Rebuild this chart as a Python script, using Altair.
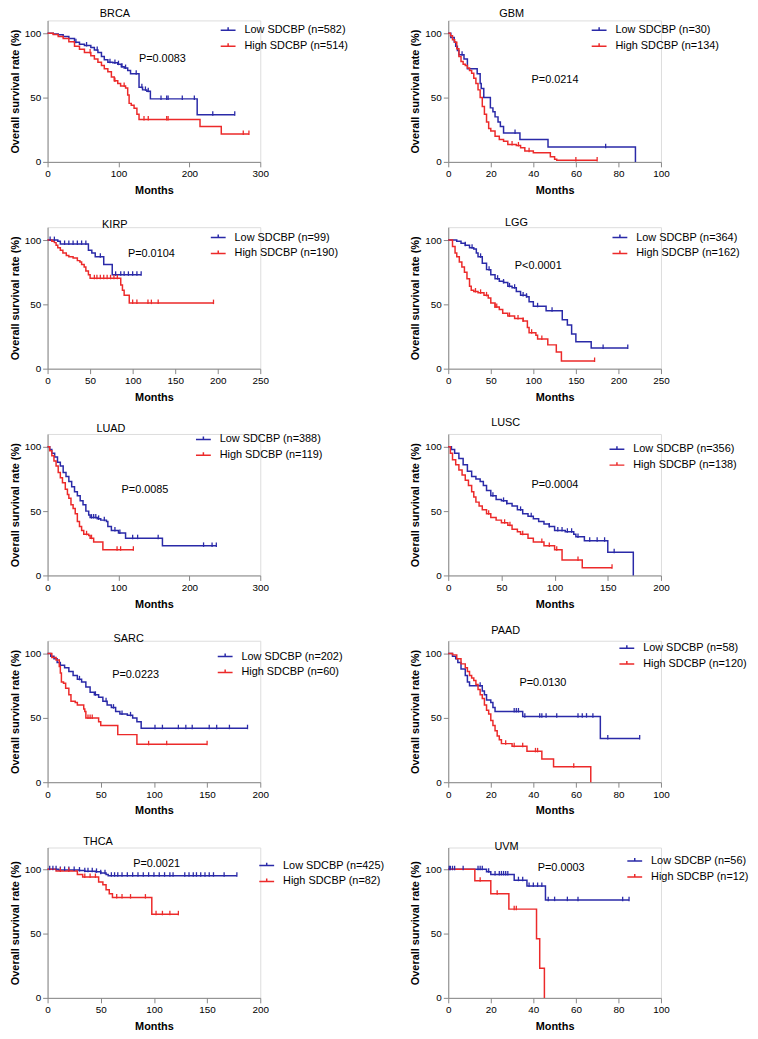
import altair as alt
import pandas as pd

BLUE = "#2a2aa8"
RED = "#ec2a2a"
FONT = "Liberation Sans"

# ---------------- data (months, % survival) ----------------
brca_low_t = [0, 8, 15, 22, 30, 38, 45, 52, 61, 66, 71, 76, 80, 85, 92, 99, 104, 108, 113, 117, 129, 134, 140, 145, 211, 264]
brca_low_s = [100, 99.5, 98.8, 97.5, 96, 93, 91.5, 90.5, 89, 87, 85, 82, 79.5, 77.5, 77, 76, 74, 73, 71, 68.5, 58, 56, 55, 49, 36.6, 36.6]
brca_low_c = [40, 55, 70, 88, 95, 100, 105, 110, 125, 133, 138, 142, 160, 168, 170, 190, 207, 233, 264]
brca_high_t = [0, 8, 15, 22, 30, 38, 45, 52, 61, 66, 71, 76, 80, 85, 90, 94, 99, 103, 110, 113, 115, 118, 122, 126, 129, 215, 245, 284]
brca_high_s = [100, 99, 97.5, 96, 93.5, 90, 87.5, 85, 82.5, 80, 77.5, 75, 72.5, 70, 66, 63, 61, 59, 57.5, 52, 45.5, 44, 41.7, 37, 33, 27.6, 21.7, 21.7]
brca_high_c = [60, 95, 108, 136, 142, 168, 170, 276, 284]

gbm_low_t = [0, 1.2, 2.8, 3.5, 4.3, 5, 7.4, 9, 13.6, 15, 15.5, 16.7, 19.8, 21, 22, 23.4, 24.5, 26, 33.7, 46.9, 88]
gbm_low_s = [100, 96.7, 93.3, 90, 86.7, 83.3, 80, 72.4, 68.5, 61, 57, 50, 42, 39, 35, 31, 27.6, 22.5, 17.4, 11.5, 0]
gbm_low_c = [6.5, 31.4, 74]
gbm_high_t = [0, 1, 2, 3, 4, 5, 6, 7, 8, 9, 10, 11, 12, 13, 14, 15, 16, 17, 18, 19, 20, 22, 24, 26, 28, 32, 34, 36, 40, 48, 50, 51, 70]
gbm_high_s = [100, 98, 95, 93, 88, 82, 78, 76, 75, 73, 71, 69, 65, 61, 56, 50, 43, 37, 31, 26, 24, 20, 17.4, 16, 13.5, 12.8, 11, 8.4, 7.2, 4, 2, 1.2, 1.2]
gbm_high_c = [30, 33, 38, 60, 70]

kirp_low_t = [0, 12, 15, 48, 52, 56, 66, 76, 110]
kirp_low_s = [100, 99, 97, 92, 90, 87, 81, 73, 73]
kirp_low_c = [3, 8, 20, 25, 30, 35, 40, 45, 62, 80, 86, 90, 95, 100, 105, 110]
kirp_high_t = [0, 5, 8, 10, 12, 15, 18, 22, 25, 30, 35, 38, 40, 43, 45, 48, 50, 86, 88, 90, 96, 195]
kirp_high_s = [100, 99, 98, 96, 94, 92, 90, 88, 87, 86, 84, 83, 81, 79, 76, 73, 70.3, 65, 61, 57, 51, 51]
kirp_high_c = [55, 58, 62, 66, 70, 74, 78, 82, 100, 105, 118, 122, 130, 195]

lgg_low_t = [0, 10, 15, 20, 25, 30, 33, 35, 40, 45, 50, 55, 60, 65, 70, 75, 80, 85, 92, 95, 100, 115, 134, 140, 145, 150, 168, 211]
lgg_low_s = [100, 99, 97.5, 96, 94, 93, 90, 87, 82, 77, 73, 70, 68, 67, 64, 63, 60, 57, 56, 52, 48.5, 45, 38, 34, 27, 21, 16, 16]
lgg_low_c = [20, 28, 38, 48, 58, 65, 72, 78, 88, 92, 105, 122, 182, 211]
lgg_high_t = [0, 5, 8, 10, 13, 16, 19, 22, 25, 27, 30, 35, 42, 47, 50, 55, 60, 64, 70, 78, 88, 93, 95, 103, 105, 117, 127, 133, 172]
lgg_high_s = [100, 95, 90, 87, 83, 79, 75, 70, 64, 61, 60, 59, 57, 55, 51, 48, 46, 43, 41, 39, 37, 32, 28, 26, 23, 18.5, 13, 6, 6]
lgg_high_c = [32, 38, 45, 55, 57, 72, 82, 88, 98, 110, 172]

luad_low_t = [0, 3, 6, 10, 14, 18, 22, 26, 30, 34, 38, 42, 46, 50, 54, 58, 60, 70, 75, 83, 85, 90, 100, 110, 162, 238]
luad_low_s = [100, 98, 95, 92, 88, 85, 80, 77, 73, 69, 65, 62, 58, 55, 50, 47, 45, 44, 43, 42, 38, 35, 33, 29, 23, 23]
luad_low_c = [62, 65, 68, 72, 80, 95, 102, 120, 127, 156, 220, 232, 238]
luad_high_t = [0, 3, 6, 9, 12, 15, 18, 21, 25, 28, 30, 33, 36, 39, 42, 45, 48, 51, 58, 60, 65, 78, 121]
luad_high_s = [100, 97, 93, 89, 85, 80, 76, 72, 67, 63, 60, 55, 52, 48, 42, 38, 35, 32, 31, 29, 26, 20, 20]
luad_high_c = [55, 62, 98, 103, 121]

lusc_low_t = [0, 3, 6, 10, 14, 18, 22, 26, 30, 33, 36, 40, 45, 50, 55, 60, 65, 70, 75, 80, 85, 90, 95, 100, 110, 118, 120, 128, 150, 174]
lusc_low_s = [100, 98, 95, 91, 86, 81, 77, 75, 73, 70, 66, 62, 59, 58, 56, 54, 51, 48, 46, 44, 42, 40, 38, 35, 34, 32, 30, 27, 18, 0]
lusc_low_c = [42, 52, 55, 68, 78, 95, 103, 107, 112, 116, 122, 133, 140, 147, 156]
lusc_high_t = [0, 2, 4, 7, 10, 13, 16, 19, 22, 24, 26, 29, 32, 36, 40, 45, 50, 56, 60, 65, 68, 75, 80, 90, 100, 107, 126, 154]
lusc_high_s = [100, 95, 90, 86, 82, 78, 74, 70, 65, 61, 57, 54, 51, 48, 45, 43, 41, 39, 36, 34, 32, 29, 26, 23, 20, 12, 6, 6]
lusc_high_c = [38, 53, 58, 70, 88, 95, 102, 122, 154]

sarc_low_t = [0, 3, 6, 9, 12, 16, 20, 24, 28, 32, 36, 40, 44, 48, 52, 56, 60, 64, 68, 75, 80, 84, 88, 188]
sarc_low_s = [100, 98, 96, 93, 91, 89, 86, 83, 80, 78, 74, 70, 68, 66, 63, 60, 58, 55, 53, 52, 50, 47, 42, 42]
sarc_low_c = [30, 45, 55, 62, 70, 78, 101, 108, 123, 130, 136, 152, 159, 171, 188]
sarc_high_t = [0, 4, 8, 11, 12, 13, 15, 17, 20, 22, 26, 28, 34, 35, 36, 48, 50, 66, 84, 150]
sarc_high_s = [100, 97, 95, 90, 85, 78, 77, 73, 68, 63, 62, 60, 57, 55, 50, 47, 44, 37, 29.5, 29.5]
sarc_high_c = [38, 40, 42, 95, 112, 150]

paad_low_t = [0, 2, 3.5, 4.5, 6, 8, 9, 10, 16, 17, 18, 20, 21, 22, 35, 71.5, 90]
paad_low_s = [100, 98, 96, 93, 88, 83, 78, 75, 71, 68, 64, 62, 58, 55, 51, 34, 34]
paad_low_c = [15, 31, 32, 33, 36, 43, 44, 46, 51, 61, 63, 65, 68, 75, 90]
paad_high_t = [0, 2, 4, 6, 8, 9, 10, 11, 12, 13, 14, 15, 16, 17, 18, 19, 20, 21, 22, 23, 24, 25, 30, 37, 44, 49.5, 67]
paad_high_s = [100, 99, 96, 92, 89, 86, 83, 81, 79, 76, 72, 68, 65, 60, 56, 53, 48, 44, 40, 36, 33, 30, 28, 24, 18, 12, 0]
paad_high_c = [27, 31, 35, 41, 42, 59]

thca_low_t = [0, 10, 30, 35, 45, 50, 55, 57, 178]
thca_low_s = [100, 99.5, 99, 98.5, 98, 97, 96, 95, 95]
thca_low_c = [2, 5, 8, 12, 16, 20, 25, 30, 35, 38, 42, 46, 50, 54, 60, 63, 66, 70, 75, 80, 85, 90, 95, 100,
              105, 110, 115, 118, 129, 133, 137, 140, 144, 148, 152, 156, 166, 178]
thca_high_t = [0, 8, 28, 33, 48, 52, 55, 58, 61, 98, 123]
thca_high_s = [100, 98.7, 96, 94, 90, 88, 84, 81, 78, 65, 65]
thca_high_c = [12, 20, 35, 40, 45, 65, 70, 78, 92, 102, 108, 115, 123]

uvm_low_t = [0, 18, 20, 31, 37, 45.7, 85]
uvm_low_s = [100, 98, 96, 91.5, 87, 76, 76]
uvm_low_c = [0.5, 1, 2, 3, 7, 14, 15, 16, 19, 22, 24, 25, 26, 27, 28, 33, 35, 38, 40, 42, 44, 47, 50, 56, 61, 82, 85]
uvm_high_t = [0, 12.5, 20, 28.5, 41.5, 43, 45.2]
uvm_high_s = [100, 91, 81, 69, 46, 23, 0]
uvm_high_c = [15, 23, 31, 32]

cancers = ["BRCA", "GBM", "KIRP", "LGG", "LUAD", "LUSC", "SARC", "PAAD", "THCA", "UVM"]
n_low = [582, 30, 99, 364, 388, 356, 202, 58, 425, 56]
n_high = [514, 134, 190, 162, 119, 138, 60, 120, 82, 12]
p_values = ["P=0.0083", "P=0.0214", "P=0.0104", "P<0.0001", "P=0.0085",
            "P=0.0004", "P=0.0223", "P=0.0130", "P=0.0021", "P=0.0003"]
x_max = [300, 100, 250, 250, 300, 200, 200, 100, 200, 100]
x_step = [100, 20, 50, 50, 100, 50, 50, 20, 50, 20]

low_curves = [(brca_low_t, brca_low_s, brca_low_c), (gbm_low_t, gbm_low_s, gbm_low_c),
              (kirp_low_t, kirp_low_s, kirp_low_c), (lgg_low_t, lgg_low_s, lgg_low_c),
              (luad_low_t, luad_low_s, luad_low_c), (lusc_low_t, lusc_low_s, lusc_low_c),
              (sarc_low_t, sarc_low_s, sarc_low_c), (paad_low_t, paad_low_s, paad_low_c),
              (thca_low_t, thca_low_s, thca_low_c), (uvm_low_t, uvm_low_s, uvm_low_c)]
high_curves = [(brca_high_t, brca_high_s, brca_high_c), (gbm_high_t, gbm_high_s, gbm_high_c),
               (kirp_high_t, kirp_high_s, kirp_high_c), (lgg_high_t, lgg_high_s, lgg_high_c),
               (luad_high_t, luad_high_s, luad_high_c), (lusc_high_t, lusc_high_s, lusc_high_c),
               (sarc_high_t, sarc_high_s, sarc_high_c), (paad_high_t, paad_high_s, paad_high_c),
               (thca_high_t, thca_high_s, thca_high_c), (uvm_high_t, uvm_high_s, uvm_high_c)]

# ---------------- layout (annotation anchors in data units, legend offsets in px) ----------------
title_pos = [(95, 114.6), (29.8, 114.6), (79, 112), (80.2, 113.3), (89.3, 113.6),
             (54, 118.2), (76.3, 111), (27, 117.5), (47.4, 121), (27.4, 116.9)]
p_pos = [(161.9, 80), (50.2, 63.3), (122, 89), (105.8, 79.8), (137.4, 66.2),
         (100.2, 70.2), (82.8, 83.6), (44.5, 77.2), (102.5, 104.4), (53.1, 100.8)]
legend_pos = [(174, 1.5), (144, 1.5), (164, 2), (165, 2), (149, -3),
              (162, 7), (171, 7.5), (172, -1), (213, 9.8), (180, 5.2)]


def step_value(ts, ss, c):
    v = ss[0]
    for t, s in zip(ts, ss):
        if t <= c:
            v = s
        else:
            break
    return v


def panel(i, last_row):
    ytop = 116.9 if last_row else 110
    h = 152 if last_row else 143
    lo_lab = f"Low SDCBP (n={n_low[i]})"
    hi_lab = f"High SDCBP (n={n_high[i]})"
    curve_rows, cens_rows = [], []
    for lab, (ts, ss, cs) in ((lo_lab, low_curves[i]), (hi_lab, high_curves[i])):
        for t, s in zip(ts, ss):
            curve_rows.append({"t": t, "s": s, "g": lab})
        for c in cs:
            cens_rows.append({"t": c, "s": step_value(ts, ss, c), "g": lab})
    curves = pd.DataFrame(curve_rows)
    cens = pd.DataFrame(cens_rows)

    xaxis = alt.Axis(values=list(range(0, x_max[i] + 1, x_step[i])), title="Months",
                     titlePadding=6, labelFlush=False, labelOverlap=False, grid=False,
                     gridColor="white", gridWidth=0, gridOpacity=0)
    yaxis = alt.Axis(values=[0, 50, 100], title="Overall survival rate (%)", titlePadding=4,
                     grid=False, gridColor="white", gridWidth=0, gridOpacity=0)
    x = alt.X("t:Q", scale=alt.Scale(domain=[0, x_max[i]], nice=False, zero=True), axis=xaxis)
    y = alt.Y("s:Q", scale=alt.Scale(domain=[0, ytop], nice=False), axis=yaxis)
    cscale = alt.Scale(domain=[lo_lab, hi_lab], range=[BLUE, RED])
    lx, ly = legend_pos[i]
    color = alt.Color("g:N", scale=cscale, legend=alt.Legend(
        title=None, orient="none", legendX=lx, legendY=ly,
        symbolType="M-1,0H1M0,0V-0.4", symbolSize=225, symbolStrokeWidth=1.5,
        labelFontSize=11, labelFont=FONT, labelColor="black", labelOffset=8,
        rowPadding=2, padding=0))

    lines = alt.Chart(curves).mark_line(interpolate="step-after", strokeWidth=1.5).encode(
        x=x, y=y, color=color)
    ticks = alt.Chart(cens).mark_point(shape="M0,0.3V-1", size=49, strokeWidth=1.3,
                                       filled=False, opacity=1).encode(
        x=x, y=y, color=alt.Color("g:N", scale=cscale, legend=None))
    tdf = pd.DataFrame({"t": [title_pos[i][0]], "s": [title_pos[i][1]], "label": [cancers[i]]})
    pdf = pd.DataFrame({"t": [p_pos[i][0]], "s": [p_pos[i][1]], "label": [p_values[i]]})
    title = alt.Chart(tdf).mark_text(fontSize=11, font=FONT, color="black",
                                     baseline="middle").encode(x=x, y=y, text="label:N")
    ptxt = alt.Chart(pdf).mark_text(fontSize=11, font=FONT, color="black",
                                    baseline="middle").encode(x=x, y=y, text="label:N")
    return alt.layer(lines, ticks, title, ptxt).properties(width=215, height=h)


panels = [panel(i, i >= 8) for i in range(10)]

chart = alt.concat(*panels, columns=2, spacing={"row": 66, "column": 190}, bounds="flush").resolve_scale(
    color="independent"
).properties(
    padding={"left": 0, "top": -6, "right": 0, "bottom": 0}
).configure_view(stroke=None, fill="white").configure_axis(
    domainColor="black", domainWidth=1.5, tickColor="black", tickWidth=1.5, tickSize=4,
    labelFont=FONT, labelFontWeight="bold", labelFontSize=10, labelColor="black", labelPadding=2,
    titleFont=FONT, titleFontWeight="bold", titleFontSize=12, titleColor="black", grid=False,
    gridColor="white", gridWidth=0, gridOpacity=0
).configure_axisX(grid=False).configure_axisY(grid=False).configure(font=FONT)

chart.save("out.html", embed_options={"renderer": "svg", "actions": False})
